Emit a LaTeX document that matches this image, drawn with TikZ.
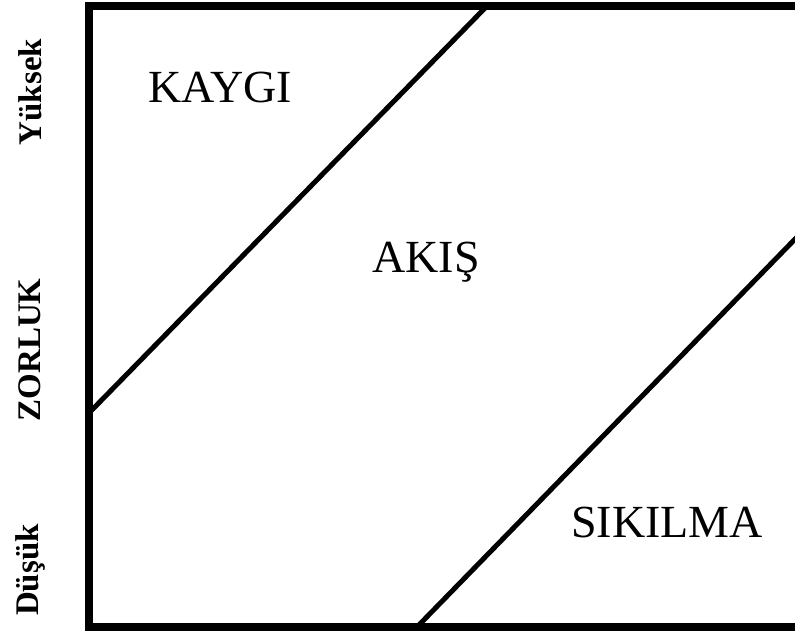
\documentclass[tikz,border=0pt]{standalone}
\usepackage{fontspec}
\setmainfont{Liberation Serif}
\begin{document}
\begin{tikzpicture}[x=1pt,y=1pt,
  frame/.style={line width=8pt,line cap=rect},
  diag/.style={line width=5pt},
  zone/.style={font=\fontsize{46}{50}\selectfont,inner sep=0pt},
  axislab/.style={font=\bfseries\fontsize{33}{36}\selectfont,rotate=90,inner sep=0pt}]
\useasboundingbox (0,0) rectangle (795,636);
\coordinate (tl) at (89,630);
\coordinate (bl) at (89,9);
\coordinate (tr) at (800,630);
\coordinate (br) at (800,9);
\draw[frame] (tr) -- (tl) -- (bl) -- (br);
\coordinate (a1) at (89,223);
\coordinate (a2) at (487,630);
\coordinate (b1) at (417,9);
\coordinate (b2) at (800,402);
\draw[diag] (a1) -- (a2);
\draw[diag] (b1) -- (b2);
\node[zone] (kaygi) at (220,548) {KAYGI};
\node[zone] (akis) at (426,374) {AKIŞ};
\node[zone] (sikilma) at (667,113) {SIKILMA};
\node[axislab] (yuksek) at (30,544) {Yüksek};
\node[axislab] (zorluk) at (30,286) {ZORLUK};
\node[axislab] (dusuk) at (30,66) {Düşük};
\end{tikzpicture}
\end{document}
